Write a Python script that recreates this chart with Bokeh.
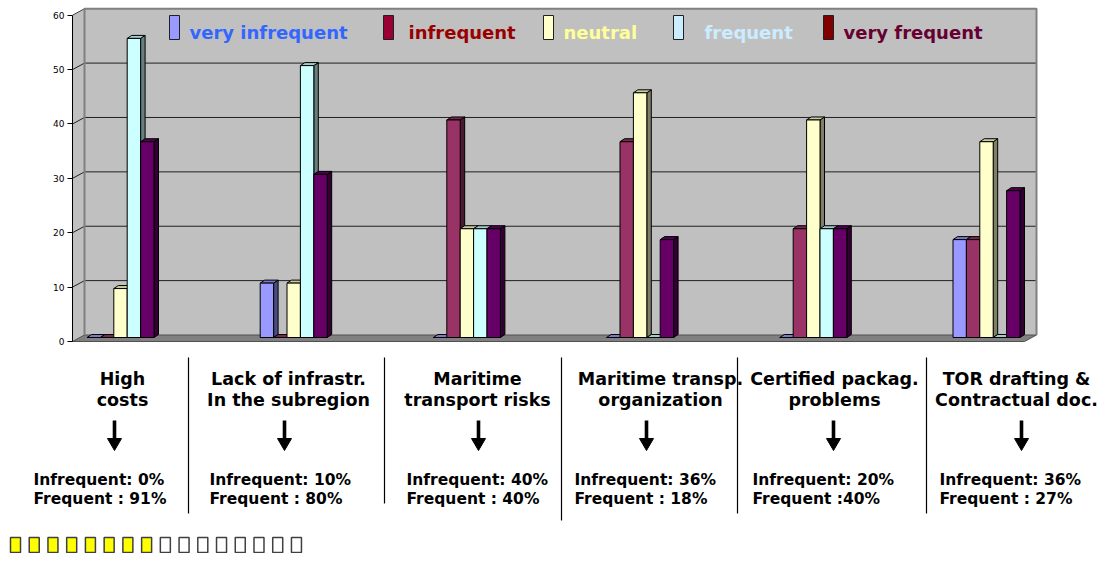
from bokeh.plotting import figure
from bokeh.models import Range1d, FixedTicker, LinearAxis
from bokeh.embed import file_html
from bokeh.resources import INLINE
from bokeh.core.properties import value

# ---------------- data ----------------
categories = ["High costs", "Lack of infrastr. In the subregion", "Maritime transport risks",
              "Maritime transp. organization", "Certified packag. problems",
              "TOR drafting & Contractual doc."]
series_names = ["very infrequent", "infrequent", "neutral", "frequent", "very frequent"]
very_infrequent = [0, 10, 0, 0, 0, 18]
infrequent = [0, 0, 40, 36, 20, 18]
neutral = [9, 10, 20, 45, 40, 36]
frequent = [55, 50, 20, 0, 20, 0]
very_frequent = [36, 30, 20, 18, 20, 27]
y_ticks = [0, 10, 20, 30, 40, 50, 60]

title_line1 = ["High", "Lack of infrastr.", "Maritime", "Maritime transp.", "Certified packag.", "TOR drafting &"]
title_line2 = ["costs", "In the subregion", "transport risks", "organization", "problems", "Contractual doc."]
infrequent_pct = [0, 10, 40, 36, 20, 36]
frequent_pct = [91, 80, 40, 18, 40, 27]
frequent_sep = [" : ", " : ", " : ", " : ", " :", " : "]
slides_total = 16
slides_done = 8

# ---------------- styles ----------------
bar_colors = ["#9999FF", "#993366", "#FFFFCC", "#CCFFFF", "#660066"]
legend_swatch_colors = ["#9999FF", "#990033", "#FFFFCC", "#CCECFF", "#800000"]
legend_text_colors = ["#3366FF", "#990000", "#FFFF99", "#CCECFF", "#660033"]
FONT = value("DejaVu Sans")

# ---------------- layout (reference pixels) ----------------
PX_PER_GROUP = 173.2
GROUP0_PX = 120.0
PX_PER_UNIT = 5.438
ZERO_PX = 341.0
BAR_W_PX = 13.4
WALL_DX, WALL_DY = 12.0, 6.5
BAR_DX, BAR_DY = 4.5, 3.0
BAR_BASE_PX = 4.0
AXIS_PX = 72

legend_swatch_px = [169, 383, 543, 673, 823]
legend_text_px = [189, 408, 563, 704, 843]
col_center_px = [122, 288, 477, 660, 834, 1016]
col_left_px = [33, 209, 406, 574, 752, 939]
arrow_px = [114, 284, 478, 646, 833, 1021]
sep_px = [188, 384, 561, 737, 926]
sep_bottom_px = [513, 503, 520, 513, 513]


def gx(px):
    return (px - GROUP0_PX) / PX_PER_GROUP


def vy(py):
    return (ZERO_PX - py) / PX_PER_UNIT


def shade(hexc, f):
    h = hexc.lstrip("#")
    r, g, b = (int(h[i:i + 2], 16) for i in (0, 2, 4))
    return "#%02x%02x%02x" % (int(r * f), int(g * f), int(b * f))


W, H = 1100, 553

p = figure(width=W, height=H, x_range=Range1d(gx(0), gx(W)), y_range=Range1d(vy(H), vy(0)),
           output_backend="svg", toolbar_location=None, x_axis_location=None, y_axis_location=None,
           min_border_left=0, min_border_right=0, min_border_top=0, min_border_bottom=0)
p.background_fill_color = "white"
p.border_fill_color = "white"
p.outline_line_color = None
p.grid.visible = False

ymax = y_ticks[-1]
off = WALL_DY / PX_PER_UNIT
xl, xb, xr, xfr = gx(AXIS_PX), gx(AXIS_PX + WALL_DX), gx(1036), gx(1036 - WALL_DX)

# walls and floor
p.patches([[xb, xr, xr, xb], [xl, xl, xb, xb], [xl, xfr, xr, xb]],
          [[off, off, ymax + off, ymax + off], [0, ymax, ymax + off, off], [0, 0, off, off]],
          fill_color=["#C0C0C0", "#C0C0C0", "#808080"], line_color=[None, None, "#505050"], line_width=1)
# gridlines
gl = y_ticks[1:-1]
p.segment(x0=[xl] * len(gl), y0=gl, x1=[xb] * len(gl), y1=[t + off for t in gl], line_color="#202020", line_width=1)
p.segment(x0=[xb] * len(gl), y0=[t + off for t in gl], x1=[xr] * len(gl), y1=[t + off for t in gl],
          line_color="#202020", line_width=1)
p.segment(x0=[xl], y0=[ymax], x1=[xb], y1=[ymax + off], line_color="#404040", line_width=1)
p.multi_line([[xb, xb, xr, xr]], [[off, ymax + off, ymax + off, off]], line_color="#808080", line_width=2)

# value axis
ax = LinearAxis(fixed_location=gx(AXIS_PX), ticker=FixedTicker(ticks=y_ticks), bounds=(y_ticks[0], y_ticks[-1]))
ax.axis_line_color = "black"
ax.axis_line_width = 1
ax.major_tick_line_color = "black"
ax.major_tick_out = 5
ax.major_tick_in = 0
ax.minor_tick_line_color = None
ax.major_label_text_font = "DejaVu Sans"
ax.major_label_text_font_size = "9px"
ax.major_label_text_color = "black"
ax.major_label_standoff = 3
p.add_layout(ax, "left")

# bars
series = [very_infrequent, infrequent, neutral, frequent, very_frequent]
bw = BAR_W_PX / PX_PER_GROUP
ddx = BAR_DX / PX_PER_GROUP
ddy = BAR_DY / PX_PER_UNIT
base = BAR_BASE_PX / PX_PER_UNIT
xs, ys, fills = [], [], []
for i in range(len(categories)):
    for k, s in enumerate(series):
        v = s[i]
        c = bar_colors[k]
        x0 = i + (k - 2.5) * bw
        x1 = x0 + bw
        y0, y1 = base, base + v
        xs.append([x1, x1, x1 + ddx, x1 + ddx]); ys.append([y0, y1, y1 + ddy, y0 + ddy]); fills.append(shade(c, 0.5))
        xs.append([x0, x1, x1 + ddx, x0 + ddx]); ys.append([y1, y1, y1 + ddy, y1 + ddy]); fills.append(shade(c, 0.8))
        xs.append([x0, x1, x1, x0]); ys.append([y0, y0, y1, y1]); fills.append(c)
p.patches(xs, ys, fill_color=fills, line_color="black", line_width=1)

# legend
p.quad(left=[gx(a) for a in legend_swatch_px], right=[gx(a + 10) for a in legend_swatch_px],
       top=[vy(15)] * 5, bottom=[vy(39)] * 5, fill_color=legend_swatch_colors, line_color="#202020", line_width=1)
p.text(x=[gx(a) for a in legend_text_px], y=[vy(32)] * 5, text=series_names, text_color=legend_text_colors,
       text_font=FONT, text_font_style="bold", text_font_size="18px", text_baseline="alphabetic",
       text_align="left")

# ---------------- lower panel ----------------
n = len(categories)
p.text(x=[gx(a) for a in col_center_px], y=[vy(378)] * n, text=title_line1, text_font=FONT, text_font_style="bold",
       text_font_size="17.5px", text_align="center", text_baseline="alphabetic", text_color="black")
p.text(x=[gx(a) for a in col_center_px], y=[vy(399)] * n, text=title_line2, text_font=FONT, text_font_style="bold",
       text_font_size="17.5px", text_align="center", text_baseline="alphabetic", text_color="black")
# arrows
p.quad(left=[gx(a - 1.8) for a in arrow_px], right=[gx(a + 1.8) for a in arrow_px], top=[vy(420)] * n,
       bottom=[vy(439)] * n, fill_color="black", line_color=None)
p.patches([[gx(a - 7), gx(a + 7), gx(a)] for a in arrow_px], [[vy(438), vy(438), vy(450)]] * n,
          fill_color="black", line_color="black")
# percentages
p.text(x=[gx(a) for a in col_left_px], y=[vy(479)] * n, text=["Infrequent: %d%%" % v for v in infrequent_pct],
       text_font=FONT, text_font_style="bold", text_font_size="15.5px", text_align="left",
       text_baseline="alphabetic", text_color="black")
p.text(x=[gx(a) for a in col_left_px], y=[vy(498)] * n,
       text=["Frequent %s%d%%" % (s, v) for s, v in zip(frequent_sep, frequent_pct)],
       text_font=FONT, text_font_style="bold", text_font_size="15.5px", text_align="left",
       text_baseline="alphabetic", text_color="black")
# separators
p.segment(x0=[gx(a) for a in sep_px], y0=[vy(357)] * len(sep_px), x1=[gx(a) for a in sep_px],
          y1=[vy(b) for b in sep_bottom_px], line_color="black", line_width=1.2)
# progress squares
sq_left = [10 + 18.73 * i for i in range(slides_total)]
p.quad(left=[gx(a) for a in sq_left], right=[gx(a + 10) for a in sq_left], top=[vy(537)] * slides_total,
       bottom=[vy(552)] * slides_total,
       fill_color=["#FFFF00" if i < slides_done else "white" for i in range(slides_total)],
       line_color="#404040", line_width=1.5)

open("out.html", "w").write(file_html(p, INLINE))
